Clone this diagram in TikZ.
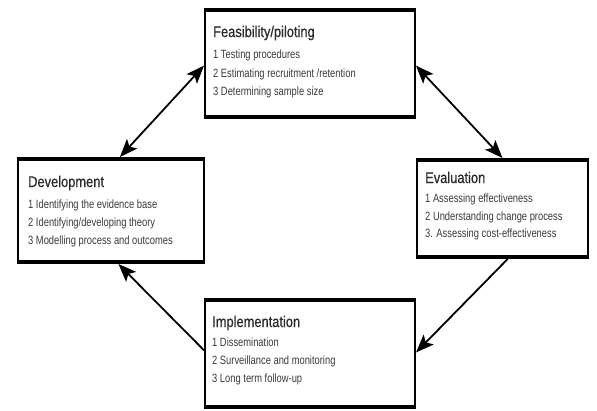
\documentclass[tikz,border=0pt]{standalone}
\usepackage{fontspec}
\setmainfont{Liberation Sans}[FakeStretch=0.78]
\newfontfamily\titlefont{Liberation Sans}[FakeStretch=0.83,FakeBold=0.6]
\usetikzlibrary{arrows.meta,calc}
\definecolor{txt}{HTML}{3A3A3A}
\definecolor{ttltxt}{HTML}{2A2A2A}
\tikzset{
  boxarea/.style={anchor=north west, inner sep=0pt, outer sep=0pt, fill=white},
  sideline/.style={line width=2pt, draw=black},
  capline/.style={line width=4.5pt, draw=black},
  ttl/.style={anchor=base west, inner sep=0pt, text=ttltxt, font=\titlefont\fontsize{15.5}{17}\selectfont},
  itm/.style={anchor=base west, inner sep=0pt, text=txt, font=\fontsize{12}{14}\selectfont},
  bigtip/.tip={Stealth[length=18pt,width=14pt,inset=4pt]},
  conn/.style={line width=1.8pt, draw=black},
}
\newcommand{\myboxframe}[1]{%
  \draw[sideline] (#1.north west) -- (#1.south west) (#1.north east) -- (#1.south east);
  \draw[capline] ([xshift=-1pt]#1.north west) -- ([xshift=1pt]#1.north east)
                 ([xshift=-1pt]#1.south west) -- ([xshift=1pt]#1.south east);
}
\begin{document}
\begin{tikzpicture}[x=1pt,y=1pt]
\useasboundingbox (0,0) rectangle (597,-410);
% boxes
\node[boxarea, minimum width=210pt, minimum height=107pt] (feas) at (205,-10) {};
\node[boxarea, minimum width=186pt, minimum height=103pt] (dev) at (18,-159) {};
\node[boxarea, minimum width=171pt, minimum height=97pt] (eval) at (417,-160) {};
\node[boxarea, minimum width=210pt, minimum height=107pt] (impl) at (205,-300) {};
\myboxframe{feas}
\myboxframe{dev}
\myboxframe{eval}
\myboxframe{impl}
% texts
\node[ttl] (feasT) at (213,-37) {Feasibility/piloting};
\node[itm] (feas1) at (213,-58) {1 Testing procedures};
\node[itm] (feas2) at (213,-77) {2 Estimating recruitment /retention};
\node[itm] (feas3) at (213,-95) {3 Determining sample size};
\node[ttl] (devT) at (28,-187) {Development};
\node[itm] (dev1) at (28,-208) {1 Identifying the evidence base};
\node[itm] (dev2) at (28,-226) {2 Identifying/developing theory};
\node[itm] (dev3) at (28,-244) {3 Modelling process and outcomes};
\node[ttl] (evalT) at (425,-183) {Evaluation};
\node[itm] (eval1) at (425,-202) {1 Assessing effectiveness};
\node[itm] (eval2) at (425,-220) {2 Understanding change process};
\node[itm] (eval3) at (425,-237) {3. Assessing cost-effectiveness};
\node[ttl] (implT) at (212,-327) {Implementation};
\node[itm] (impl1) at (212,-346) {1 Dissemination};
\node[itm] (impl2) at (212,-364) {2 Surveillance and monitoring};
\node[itm] (impl3) at (212,-382) {3 Long term follow-up};
% connector ends
\coordinate (devN) at ($(dev.north west)!0.548!(dev.north east)+(0,2)$);
\coordinate (feasW) at ($(feas.north west)!0.52!(feas.south west)+(-1,0)$);
\coordinate (feasE) at ($(feas.north east)!0.52!(feas.south east)+(1,0)$);
\coordinate (evalN) at ($(eval.north west)!0.50!(eval.north east)+(0,2)$);
\coordinate (evalS) at ($(eval.south west)!0.53!(eval.south east)+(0,-2)$);
\coordinate (implE) at ($(impl.north east)!0.49!(impl.south east)+(1,0)$);
\coordinate (implW) at ($(impl.north west)!0.47!(impl.south west)+(-1,0)$);
\coordinate (devS) at ($(dev.south west)!0.54!(dev.south east)+(0,-2)$);
% connectors
\draw[conn, bigtip-bigtip] (devN) -- (feasW);
\draw[conn, bigtip-bigtip] (feasE) -- (evalN);
\draw[conn, -bigtip] (evalS) -- (implE);
\draw[conn, -bigtip] (implW) -- (devS);
\end{tikzpicture}
\end{document}
